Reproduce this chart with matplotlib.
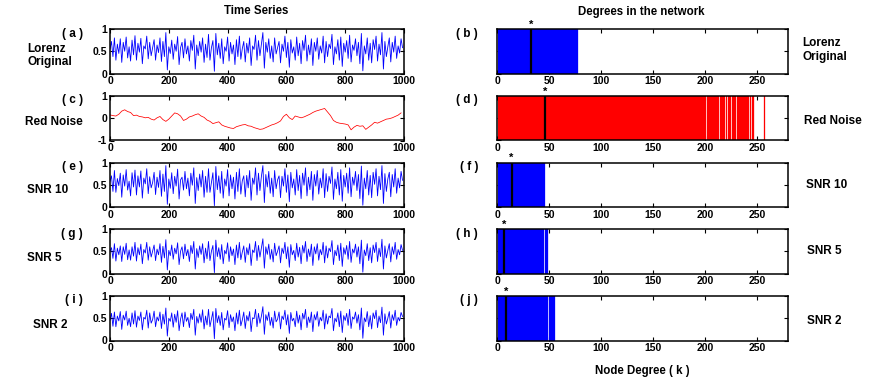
import numpy as np
import matplotlib
matplotlib.use('Agg')
import matplotlib.pyplot as plt
import matplotlib.transforms as mtransforms

plt.rcParams['font.family'] = ['Liberation Sans', 'DejaVu Sans']
plt.rcParams['font.weight'] = 'bold'

# ---------------- data ----------------
step = 5  # sample spacing of the typed values
lorenz_orig = [55, 72, 38, 80, 30, 66, 45, 78, 25, 70, 50, 82, 35, 60, 28, 75, 42, 85, 30, 68,
               48, 79, 22, 62, 55, 84, 33, 70, 40, 58, 76, 30, 64, 47, 80, 27, 72, 38, 92, 8,
               60, 45, 75, 32, 66, 50, 83, 20, 58, 70, 35, 78, 44, 62, 28, 74, 52, 86, 10, 64,
               40, 72, 48, 80, 25, 66, 36, 88, 30, 58, 74, 5, 90, 42, 68, 34, 78, 22, 60, 50,
               82, 28, 70, 44, 64, 20, 76, 38, 84, 32, 56, 72, 26, 68, 46, 80, 18, 62, 54, 86,
               30, 74, 40, 66, 92, 12, 70, 48, 78, 34, 62, 26, 80, 44, 58, 72, 24, 66, 50, 84,
               36, 70, 14, 76, 46, 60, 30, 82, 40, 68, 22, 74, 52, 86, 28, 64, 42, 78, 18, 70,
               50, 80, 32, 62, 46, 84, 24, 72, 38, 66, 56, 88, 20, 60, 44, 76, 30, 82, 16, 68,
               48, 74, 34, 86, 26, 64, 52, 78, 40, 70, 22, 90, 6, 62, 44, 80, 30, 68, 24, 76,
               54, 84, 28, 66, 42, 92, 10, 72, 38, 60, 80, 26, 70, 48, 84, 34, 62, 46, 78, 58]

snr10 = [58, 70, 35, 82, 33, 64, 48, 76, 22, 72, 47, 84, 38, 58, 25, 77, 45, 83, 27, 70,
         45, 81, 20, 65, 52, 86, 30, 68, 43, 55, 78, 28, 67, 44, 82, 24, 74, 35, 93, 6,
         63, 42, 77, 30, 69, 47, 85, 18, 61, 67, 38, 80, 41, 65, 25, 76, 49, 88, 8, 66,
         37, 74, 45, 82, 22, 69, 33, 86, 33, 55, 77, 3, 91, 39, 70, 31, 80, 20, 63, 47,
         84, 25, 72, 41, 67, 18, 78, 35, 86, 29, 59, 70, 23, 71, 43, 82, 15, 65, 51, 88,
         27, 76, 37, 69, 93, 10, 73, 45, 80, 31, 65, 23, 82, 41, 61, 70, 21, 69, 47, 86,
         33, 72, 12, 78, 43, 63, 27, 84, 37, 71, 19, 76, 49, 88, 25, 67, 39, 80, 15, 73,
         47, 82, 29, 65, 43, 86, 21, 75, 35, 69, 53, 90, 17, 63, 41, 78, 27, 84, 13, 71,
         45, 76, 31, 88, 23, 67, 49, 80, 37, 73, 19, 92, 4, 65, 41, 82, 27, 71, 21, 78,
         51, 86, 25, 69, 39, 93, 8, 75, 35, 63, 78, 23, 73, 45, 86, 31, 65, 43, 80, 60]

snr5 = [50, 58, 34, 67, 28, 57, 42, 62, 27, 60, 43, 68, 31, 53, 30, 60, 39, 70, 28, 58,
        42, 66, 22, 54, 46, 70, 30, 60, 37, 50, 64, 29, 55, 42, 67, 25, 61, 35, 76, 8,
        52, 40, 64, 32, 57, 44, 69, 20, 50, 60, 33, 66, 40, 54, 27, 63, 45, 72, 10, 56,
        36, 62, 43, 67, 24, 57, 33, 72, 29, 50, 63, 2, 75, 38, 58, 32, 65, 22, 52, 44,
        69, 27, 60, 40, 55, 20, 64, 35, 70, 31, 48, 62, 25, 58, 42, 67, 18, 53, 47, 72,
        29, 63, 37, 57, 78, 12, 60, 43, 66, 32, 54, 26, 68, 40, 50, 62, 24, 57, 45, 70,
        33, 60, 14, 65, 42, 52, 29, 68, 37, 59, 22, 63, 46, 72, 27, 55, 38, 66, 18, 60,
        44, 67, 30, 54, 42, 70, 24, 62, 35, 57, 49, 74, 20, 52, 40, 64, 29, 68, 16, 58,
        43, 63, 32, 72, 25, 55, 46, 66, 37, 60, 22, 75, 3, 53, 40, 67, 29, 58, 24, 64,
        47, 70, 27, 57, 38, 77, 10, 62, 35, 52, 67, 26, 60, 43, 70, 32, 54, 42, 65, 52]

snr2 = [46, 61, 32, 64, 31, 55, 44, 65, 25, 57, 46, 66, 34, 50, 31, 62, 37, 67, 30, 55,
        45, 64, 24, 52, 48, 68, 28, 62, 39, 47, 66, 31, 53, 44, 64, 27, 59, 37, 73, 10,
        50, 43, 62, 30, 59, 41, 67, 22, 48, 62, 31, 64, 43, 52, 29, 61, 47, 70, 12, 54,
        39, 60, 41, 69, 26, 55, 35, 70, 31, 48, 65, 4, 72, 40, 56, 34, 63, 24, 50, 46,
        67, 29, 58, 42, 53, 22, 62, 37, 68, 33, 46, 64, 27, 56, 44, 65, 20, 51, 49, 70,
        31, 61, 39, 55, 76, 14, 58, 45, 64, 34, 52, 28, 66, 42, 48, 64, 26, 55, 47, 68,
        35, 58, 16, 63, 44, 50, 31, 66, 39, 57, 24, 61, 48, 70, 29, 53, 40, 64, 20, 58,
        46, 65, 32, 52, 44, 68, 26, 60, 37, 55, 51, 72, 22, 50, 42, 62, 31, 66, 18, 56,
        45, 61, 34, 70, 27, 53, 48, 64, 39, 58, 24, 73, 5, 51, 42, 65, 31, 56, 26, 62,
        49, 68, 29, 55, 40, 75, 12, 60, 37, 50, 65, 28, 58, 45, 68, 34, 52, 44, 63, 54]

red_step = 10
red_noise = [15, 12, 10, 18, 32, 38, 30, 26, 12, 14,
             8, 6, 2, 4, -4, -8, 2, 8, -6, -14,
             -4, 10, 24, 20, 10, -10, -4, 6, 10, 16,
             20, 10, 4, -8, -14, -24, -20, -16, -30, -36,
             -40, -44, -46, -38, -34, -30, -28, -34, -36, -42,
             -46, -50, -48, -42, -36, -30, -26, -20, -12, 8,
             18, 2, -6, 10, 6, 2, 6, 12, 18, 26,
             32, 36, 40, 44, 28, 12, -10, -18, -22, -24,
             -26, -30, -52, -40, -32, -36, -34, -50, -40, -30,
             -18, -22, -16, -10, -4, -2, 2, 8, 14, 24]

# degree distributions: max degree, missing degrees, isolated extra degrees, mean degree (*)
deg_max = {'b': 77, 'd': 247, 'f': 46, 'h': 49, 'j': 55}
deg_gaps = {'b': [], 'd': [202, 214, 220, 222, 226, 230, 243, 245], 'f': [], 'h': [46], 'j': [50]}
deg_extra = {'b': [], 'd': [257], 'f': [], 'h': [], 'j': []}
deg_mean = {'b': 33, 'd': 46, 'f': 14, 'h': 7, 'j': 9}

left_letters = ['( a )', '( c )', '( e )', '( g )', '( i )']
right_letters = ['( b )', '( d )', '( f )', '( h )', '( j )']
right_keys = ['b', 'd', 'f', 'h', 'j']
row_names = ['Lorenz\nOriginal', 'Red Noise', 'SNR 10', 'SNR 5', 'SNR 2']

# ---------------- figure ----------------
W, H = 872, 386
fig = plt.figure(figsize=(W / 100, H / 100), dpi=100)


def ax_at(x0, y0, x1, y1):
    return fig.add_axes([x0 / W, 1 - y1 / H, (x1 - x0) / W, (y1 - y0) / H])


def ftext(x, y, s, **kw):
    fig.text(x / W, 1 - y / H, s, **kw)


def style(ax):
    ax.tick_params(direction='in', top=True, right=True, length=3, width=0.8,
                   labelsize=7.5, pad=2)
    for sp in ax.spines.values():
        sp.set_linewidth(1.1)


tops = [29, 96, 162.5, 229, 296]
hgt = 44.5
LX0, LX1 = 110, 404
RX0, RX1 = 497, 788

blue_series = {0: lorenz_orig, 2: snr10, 3: snr5, 4: snr2}

for r, top in enumerate(tops):
    # ---- left: time series ----
    ax = ax_at(LX0, top, LX1, top + hgt)
    style(ax)
    if r == 1:
        vals = np.array(red_noise) / 100.0
        x = np.arange(len(vals)) * red_step
        ax.plot(x, vals, color='#ff0000', lw=0.55)
        ax.set_ylim(-1, 1)
        ax.set_yticks([-1, 0, 1])
        ax.set_yticklabels(['-1', '0', '1'])
    else:
        vals = np.array(blue_series[r]) / 100.0
        x = np.arange(len(vals)) * step
        ax.plot(x, vals, color='#0000ff', lw=0.6)
        ax.set_ylim(0, 1)
        ax.set_yticks([0, 0.5, 1])
        ax.set_yticklabels(['0', '0.5', '1'])
    ax.set_xlim(0, 1000)
    ax.set_xticks([0, 200, 400, 600, 800, 1000])

    # ---- right: degrees ----
    key = right_keys[r]
    axr = ax_at(RX0, top, RX1, top + hgt)
    style(axr)
    axr.set_axisbelow(True)
    col = '#ff0000' if r == 1 else '#0000ff'
    degs = [k for k in range(1, deg_max[key] + 1) if k not in deg_gaps[key]] + deg_extra[key]
    axr.bar(degs, np.ones(len(degs)), width=1.0, color=col, edgecolor=col, linewidth=0.2)
    axr.axvline(deg_mean[key], color='k', lw=1.6)
    trans = mtransforms.blended_transform_factory(axr.transData, axr.transAxes)
    axr.text(deg_mean[key], 0.99, '*', transform=trans, ha='center', va='bottom',
             fontsize=8, fontweight='bold', clip_on=False)
    axr.set_xlim(0, 280)
    axr.set_ylim(0, 1)
    axr.set_xticks([0, 50, 100, 150, 200, 250])
    axr.set_yticks([0, 0.5, 1])
    axr.set_yticklabels([])

    # ---- labels ----
    ftext(83, top + 4.5, left_letters[r], ha='right', va='center', fontsize=8.5)
    ftext(478, top + 4.5, right_letters[r], ha='right', va='center', fontsize=8.5)

# row names left
ftext(27, 55.5, row_names[0], ha='left', va='center', fontsize=8.5, linespacing=1.15)
ftext(25, 122, row_names[1], ha='left', va='center', fontsize=8.5)
ftext(27, 190, row_names[2], ha='left', va='center', fontsize=8.5)
ftext(27, 258, row_names[3], ha='left', va='center', fontsize=8.5)
ftext(33, 325, row_names[4], ha='left', va='center', fontsize=8.5)
# row names right
ftext(802, 50, row_names[0], ha='left', va='center', fontsize=8.5, linespacing=1.15)
ftext(804, 121.5, row_names[1], ha='left', va='center', fontsize=8.5)
ftext(806, 185, row_names[2], ha='left', va='center', fontsize=8.5)
ftext(807, 251, row_names[3], ha='left', va='center', fontsize=8.5)
ftext(807, 321, row_names[4], ha='left', va='center', fontsize=8.5)

ftext(256, 11.5, 'Time Series', ha='center', va='center', fontsize=8.3)
ftext(641, 12, 'Degrees in the network', ha='center', va='center', fontsize=8.3)
ftext(642, 371, 'Node Degree ( k )', ha='center', va='center', fontsize=8.3)

fig.savefig('out.png', dpi=100)
